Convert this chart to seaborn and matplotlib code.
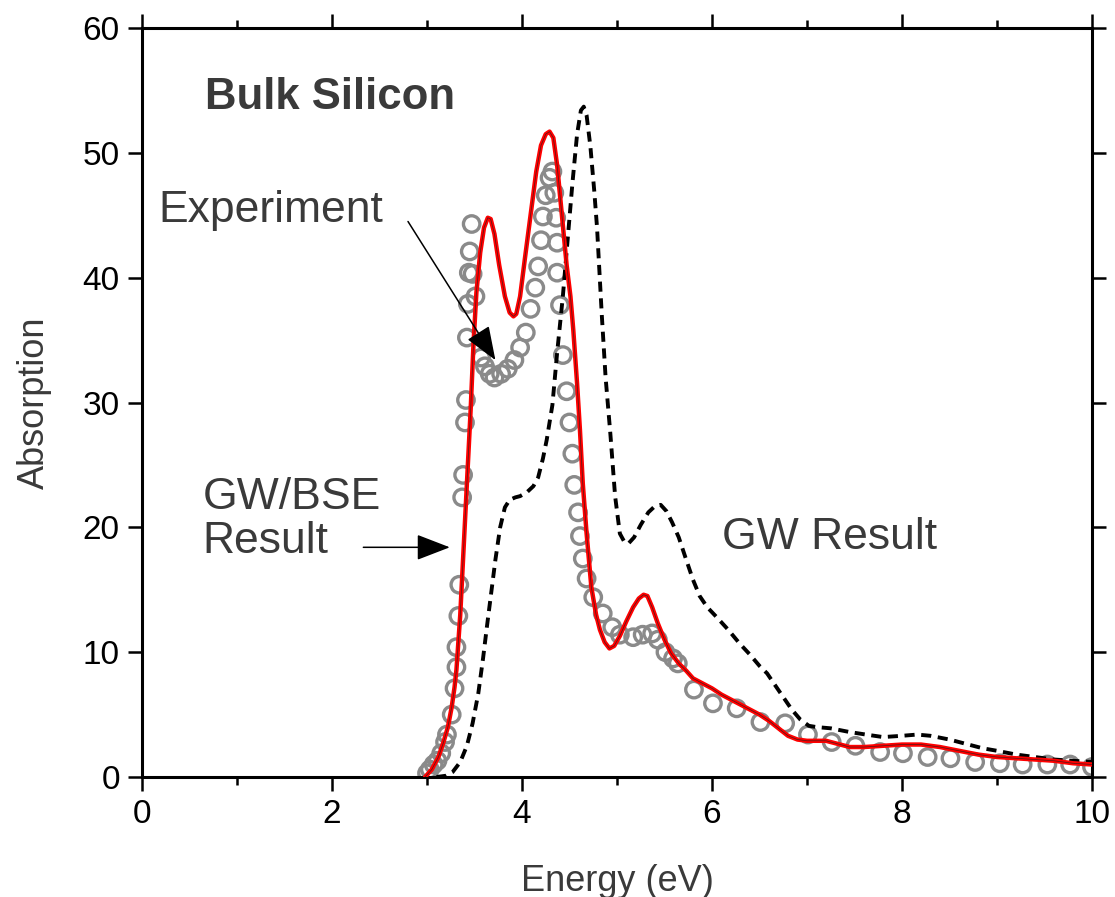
import matplotlib
matplotlib.use("Agg")
import matplotlib.pyplot as plt
import seaborn as sns
import numpy as np
import pandas as pd

# ---------------- data ----------------
bse_E = [2.98, 3.05, 3.12, 3.17, 3.22, 3.26, 3.29, 3.31, 3.33, 3.35, 3.37, 3.40, 3.43, 3.46,
         3.49, 3.52, 3.56, 3.60, 3.64, 3.67, 3.71, 3.76, 3.82, 3.87, 3.91, 3.94, 3.98, 4.03,
         4.09, 4.15, 4.20, 4.25, 4.29, 4.33, 4.37, 4.42, 4.47, 4.51, 4.54, 4.58, 4.61, 4.64,
         4.68, 4.73, 4.78, 4.82, 4.87, 4.92, 4.97, 5.03, 5.10, 5.17, 5.23, 5.28, 5.32, 5.37,
         5.43, 5.50, 5.57, 5.65, 5.73, 5.80, 5.90, 6.00, 6.10, 6.20, 6.30, 6.40, 6.50, 6.60,
         6.70, 6.80, 6.90, 7.00, 7.10, 7.20, 7.30, 7.45, 7.60, 7.80, 8.00, 8.20, 8.40, 8.60,
         8.80, 9.00, 9.20, 9.40, 9.60, 9.80, 10.0]
bse_A = [0.0, 0.6, 1.6, 2.7, 4.0, 5.6, 7.2, 8.6, 10.8, 13.0, 16.0, 20.5, 25.0, 29.5,
         34.8, 38.8, 42.0, 44.0, 44.8, 44.7, 43.5, 41.0, 38.5, 37.2, 36.9, 37.1, 38.5, 41.5,
         45.0, 48.5, 50.6, 51.5, 51.7, 51.2, 49.0, 45.0, 41.0, 38.5, 35.8, 31.5, 27.8, 23.5,
         19.5, 15.2, 13.0, 11.8, 10.8, 10.3, 10.5, 11.3, 12.5, 13.6, 14.3, 14.6, 14.5, 13.6,
         12.3, 11.0, 9.9, 9.1, 8.5, 7.9, 7.5, 7.1, 6.6, 6.2, 5.8, 5.4, 5.0, 4.5,
         3.9, 3.3, 3.0, 2.9, 2.9, 2.9, 2.7, 2.4, 2.4, 2.5, 2.6, 2.6, 2.4, 2.1,
         1.8, 1.6, 1.5, 1.4, 1.3, 1.1, 1.0]

gw_E = [3.10, 3.20, 3.27, 3.35, 3.42, 3.48, 3.54, 3.59, 3.63, 3.68, 3.72, 3.77, 3.82, 3.87,
        3.93, 3.98, 4.05, 4.12, 4.17, 4.22, 4.26, 4.32, 4.37, 4.43, 4.48, 4.53, 4.58, 4.62,
        4.65, 4.68, 4.72, 4.76, 4.79, 4.84, 4.88, 4.93, 4.98, 5.03, 5.08, 5.12, 5.18, 5.25,
        5.33, 5.40, 5.46, 5.52, 5.58, 5.65, 5.72, 5.80, 5.87, 5.95, 6.05, 6.17, 6.29, 6.40,
        6.50, 6.58, 6.66, 6.75, 6.84, 6.93, 7.02, 7.10, 7.25, 7.45, 7.62, 7.80, 8.00, 8.16,
        8.30, 8.50, 8.70, 8.85, 9.00, 9.20, 9.40, 9.60, 9.80, 10.0]
gw_A = [0.0, 0.1, 0.4, 1.2, 2.5, 4.3, 6.7, 9.5, 12.0, 15.0, 17.4, 20.0, 21.6, 22.2,
        22.4, 22.5, 22.8, 23.3, 24.0, 25.5, 27.0, 29.8, 34.0, 38.5, 43.0, 47.5, 51.5, 53.4,
        53.7, 53.0, 50.5, 47.0, 44.0, 37.0, 32.0, 27.5, 22.5, 19.5, 18.8, 18.7, 19.2, 20.2,
        21.2, 21.7, 21.8, 21.3, 20.4, 19.2, 17.6, 15.8, 14.5, 13.6, 12.8, 11.8, 10.7, 9.8,
        8.9, 8.3, 7.4, 6.4, 5.4, 4.6, 4.1, 4.0, 3.9, 3.6, 3.4, 3.2, 3.3, 3.4,
        3.3, 3.0, 2.6, 2.3, 2.1, 1.8, 1.6, 1.4, 1.3, 1.2]

exp_E = [3.00, 3.03, 3.07, 3.11, 3.15, 3.19, 3.21, 3.26, 3.29, 3.31, 3.31, 3.33, 3.34,
         3.37, 3.38, 3.40, 3.41, 3.42, 3.43, 3.44, 3.45, 3.47, 3.48, 3.51, 3.57, 3.61,
         3.66, 3.71, 3.78, 3.85, 3.92, 3.98, 4.04, 4.09, 4.14, 4.17, 4.20, 4.22, 4.25,
         4.29, 4.32, 4.34, 4.36, 4.37, 4.37, 4.40, 4.43, 4.47, 4.50, 4.53, 4.55, 4.59,
         4.61, 4.64, 4.68, 4.75, 4.85, 4.95, 5.03, 5.17, 5.27, 5.37, 5.43, 5.51, 5.59,
         5.64, 5.81, 6.01, 6.26, 6.51, 6.77, 7.01, 7.26, 7.51, 7.77, 8.01, 8.27, 8.51,
         8.77, 9.03, 9.27, 9.53, 9.77, 10.0]
exp_A = [0.3, 0.6, 1.0, 1.3, 1.9, 2.8, 3.4, 5.0, 7.1, 8.8, 10.4, 12.9, 15.4,
         22.4, 24.2, 28.4, 30.2, 35.2, 37.9, 40.4, 42.1, 44.3, 40.3, 38.5, 33.6, 32.9,
         32.3, 32.0, 32.3, 32.7, 33.4, 34.4, 35.6, 37.5, 39.2, 40.9, 43.0, 44.9, 46.6,
         48.0, 48.5, 46.8, 44.8, 42.8, 40.4, 37.8, 33.8, 30.9, 28.4, 25.9, 23.4, 21.2,
         19.3, 17.5, 15.9, 14.4, 13.1, 12.0, 11.4, 11.2, 11.4, 11.5, 11.0, 10.0, 9.5,
         9.1, 7.0, 5.9, 5.5, 4.4, 4.3, 3.4, 2.8, 2.5, 2.0, 1.9, 1.6, 1.5,
         1.2, 1.1, 1.0, 1.0, 1.0, 0.8]

x_ticks = [0, 2, 4, 6, 8, 10]
y_ticks = [0, 10, 20, 30, 40, 50, 60]

title_text = "Bulk Silicon"
label_exp = "Experiment"
label_bse = "GW/BSE\nResult"
label_gw = "GW Result"

# ---------------- styling ----------------
sns.set_theme(style="ticks")
plt.rcParams['font.family'] = ['Liberation Sans', 'DejaVu Sans']
text_color = "#3a3a3a"

fig = plt.figure(figsize=(11.15, 8.97), dpi=100)
ax = fig.add_axes([142 / 1115, 1 - 777 / 897, 950 / 1115, 749 / 897])

df_bse = pd.DataFrame({"E": bse_E, "A": bse_A})
df_gw = pd.DataFrame({"E": gw_E, "A": gw_A})
df_exp = pd.DataFrame({"E": exp_E, "A": exp_A})

sns.scatterplot(data=df_exp, x="E", y="A", ax=ax, marker="o", s=140,
                facecolor="none", edgecolor="#8a8a8a", linewidth=2.4, zorder=2)
sns.lineplot(data=df_gw, x="E", y="A", ax=ax, color="black", lw=2.8,
             estimator=None, sort=False, zorder=3)
ax.lines[-1].set_dashes((2.6, 1.7))
sns.lineplot(data=df_bse, x="E", y="A", ax=ax, color="#ff0000", lw=3.2,
             estimator=None, sort=False, zorder=4)
sns.lineplot(data=df_bse, x="E", y="A", ax=ax, color="#202020", lw=0.5, alpha=0.8,
             estimator=None, sort=False, zorder=5)

ax.set_xlim(0, 10)
ax.set_ylim(0, 60)
ax.set_xticks(x_ticks)
ax.set_xticks([1, 3, 5, 7, 9], minor=True)
ax.set_yticks(y_ticks)
ax.tick_params(axis="both", which="major", direction="out", length=10, width=1.8,
               labelsize=24, colors="black", labelcolor="black", top=True, right=True,
               labeltop=False, labelright=False, pad=6)
ax.tick_params(axis="x", which="minor", direction="out", length=6, width=1.8,
               top=True, bottom=True, colors="black")
for sp in ax.spines.values():
    sp.set_visible(True)
    sp.set_linewidth(2.2)
    sp.set_color("black")

ax.set_xlabel("Energy (eV)", fontsize=26, color=text_color, labelpad=24)
ax.set_ylabel("Absorption", fontsize=26, color=text_color, labelpad=22)

ax.text(0.66, 54.4, title_text, fontsize=31.5, fontweight="bold", color=text_color,
        ha="left", va="center")
ax.text(0.17, 45.4, label_exp, fontsize=32, color=text_color, ha="left", va="center")
ax.text(0.64, 20.6, label_bse, fontsize=32, color=text_color, ha="left", va="center",
        linespacing=1.1)
ax.text(6.1, 19.2, label_gw, fontsize=32, color=text_color, ha="left", va="center")

ax.annotate("", xy=(3.72, 33.4), xytext=(2.80, 44.5),
            arrowprops=dict(arrowstyle="-|>,head_length=0.7,head_width=0.27",
                            mutation_scale=30, color="black", lw=1.1,
                            shrinkA=0, shrinkB=0), zorder=6)
ax.annotate("", xy=(3.24, 18.4), xytext=(2.33, 18.4),
            arrowprops=dict(arrowstyle="-|>,head_length=0.7,head_width=0.27",
                            mutation_scale=30, color="black", lw=1.1,
                            shrinkA=0, shrinkB=0), zorder=6)

fig.savefig("out.png", dpi=100)
